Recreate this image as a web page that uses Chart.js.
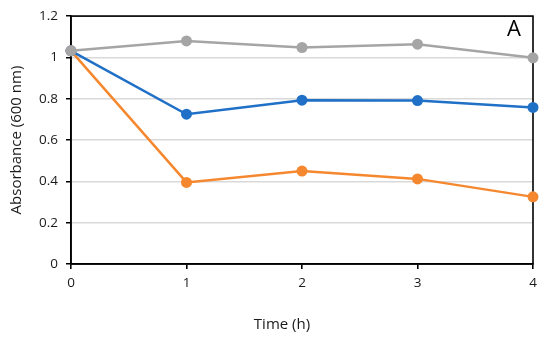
<!DOCTYPE html>
<html>
<head>
<meta charset="utf-8">
<script src="https://cdn.jsdelivr.net/npm/chart.js@4"></script>
<style>
  html, body { margin: 0; padding: 0; background: #fff; }
  #wrap { width: 550px; height: 338px; }
</style>
</head>
<body>
<div id="wrap"><canvas id="myChart"></canvas></div>
<script>
const hours = [0, 1, 2, 3, 4];
const grey = [1.032, 1.08, 1.048, 1.064, 0.998];
const blue = [1.032, 0.725, 0.793, 0.791, 0.758];
const orange = [1.032, 0.395, 0.45, 0.412, 0.325];
const yTicks = [0, 0.2, 0.4, 0.6, 0.8, 1, 1.2];

const font = "'Open Sans', sans-serif";

function points(vals) {
  return hours.map((h, i) => ({x: h, y: vals[i]}));
}

function line(vals, color) {
  return {
    data: points(vals),
    borderColor: color,
    backgroundColor: color,
    borderWidth: 2.5,
    pointRadius: 5.5,
    pointHoverRadius: 5.5,
    pointBorderWidth: 0,
    clip: false
  };
}

// frame round the plot, the panel letter and the x title
const extras = {
  id: 'extras',
  beforeDatasetsDraw(chart) {
    const a = chart.chartArea, c = chart.ctx;
    c.save();
    c.strokeStyle = '#000';
    c.lineWidth = 1.6;
    c.strokeRect(a.left, a.top, a.right - a.left, a.bottom - a.top);
    c.restore();
  },
  afterDraw(chart) {
    const c = chart.ctx;
    c.save();
    c.fillStyle = '#000';
    c.textAlign = 'center';
    c.textBaseline = 'middle';
    c.font = "22px " + font;
    c.fillText('A', 514, 30);
    c.fillStyle = '#1a1a1a';
    c.font = "15px " + font;
    c.fillText('Time (h)', 282, 325);
    c.restore();
  }
};

new Chart(document.getElementById('myChart'), {
  type: 'line',
  data: {
    datasets: [
      line(grey, '#a5a5a5'),
      line(blue, '#1f70c6'),
      line(orange, '#f5882f')
    ]
  },
  options: {
    responsive: true,
    maintainAspectRatio: false,
    animation: false,
    layout: { padding: { top: 13, right: 17, left: 8, bottom: 0 } },
    scales: {
      x: {
        type: 'linear',
        min: 0,
        max: 4,
        afterFit: s => { s.height = 74; },
        grid: { drawOnChartArea: false, tickColor: '#000', tickLength: 5, lineWidth: 1.6 },
        border: { color: '#000', width: 1.6 },
        ticks: { stepSize: 1, padding: 6, color: '#1a1a1a', font: { family: font, size: 13.5 } }
      },
      y: {
        min: 0,
        max: 1.2,
        afterFit: s => { s.width = 63; },
        afterBuildTicks: s => { s.ticks = yTicks.map(v => ({value: v})); },
        grid: { color: '#d9d9d9', lineWidth: 1.5, tickColor: '#000', tickLength: 5 },
        border: { color: '#000', width: 1.6 },
        ticks: {
          padding: 8,
          color: '#1a1a1a',
          font: { family: font, size: 13.5 },
          callback: v => String(v)
        },
        title: {
          display: true,
          text: 'Absorbance (600 nm)',
          color: '#1a1a1a',
          font: { family: font, size: 15 },
          padding: { top: 0, bottom: 4 }
        }
      }
    },
    plugins: {
      legend: { display: false },
      tooltip: { enabled: false }
    }
  },
  plugins: [extras]
});
</script>
</body>
</html>
